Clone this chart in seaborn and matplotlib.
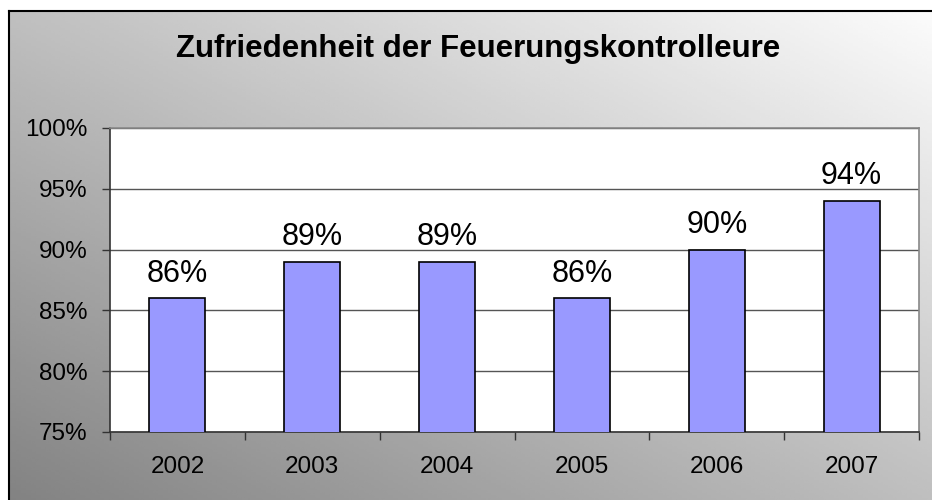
import numpy as np
import pandas as pd
import matplotlib
matplotlib.use("Agg")
import matplotlib.pyplot as plt
import seaborn as sns
from matplotlib.ticker import FixedLocator

years = ["2002", "2003", "2004", "2005", "2006", "2007"]
values = [86, 89, 89, 86, 90, 94]
yticks = [75, 80, 85, 90, 95, 100]
title = "Zufriedenheit der Feuerungskontrolleure"

sns.set_style("white")
plt.rcParams['font.family'] = ['Liberation Sans', 'DejaVu Sans']
plt.rcParams['text.color'] = 'black'
plt.rcParams['xtick.color'] = 'black'
plt.rcParams['ytick.color'] = 'black'
plt.rcParams['axes.labelcolor'] = 'black'

W, H = 932, 500
fig = plt.figure(figsize=(W / 100, H / 100), dpi=100)
fig.patch.set_facecolor("white")

# gradient background panel
bg = fig.add_axes([9 / W, -0.05, 1.05, 1.05 - 11 / H])
gx = np.linspace(0, 1, 200)
gy = np.linspace(0, 1, 200)
X, Y = np.meshgrid(gx, gy)
t = (X + Y) / 2
grad = 0.5 + 0.5 * t
bg.imshow(grad, cmap="gray", vmin=0, vmax=1, origin="lower",
          extent=[0, 1, 0, 1], aspect="auto", interpolation="bilinear")
bg.set_xlim(0, 1)
bg.set_ylim(0, 1)
bg.set_xticks([])
bg.set_yticks([])
for s in ["right", "bottom"]:
    bg.spines[s].set_visible(False)
for s in ["left", "top"]:
    bg.spines[s].set_color("black")
    bg.spines[s].set_linewidth(1.5)

ax = fig.add_axes([110 / W, (H - 432) / H, (919 - 110) / W, (432 - 128) / H])
ax.set_facecolor("white")
df = pd.DataFrame({"year": years, "value": values})
sns.barplot(data=df, x="year", y="value", color="#9999FF", edgecolor="black",
            linewidth=1.2, width=0.415, saturation=1, ax=ax, zorder=3)
ax.set_ylim(75, 100)
ax.set_xlim(-0.5, len(years) - 0.5)
ax.set_yticks(yticks)
ax.set_yticklabels([f"{v}%" for v in yticks], fontsize=17.5)
ax.yaxis.grid(True, color="#555555", linewidth=1)
ax.set_axisbelow(True)
ax.set_xlabel("")
ax.set_ylabel("")

ax.xaxis.set_major_locator(FixedLocator(np.arange(-0.5, len(years), 1.0)))
ax.xaxis.set_minor_locator(FixedLocator(np.arange(len(years))))
ax.set_xticklabels([], minor=False)
ax.set_xticklabels(years, minor=True, fontsize=17.5)
ax.tick_params(axis="x", which="major", direction="out", length=6, width=1,
               color="#333333", bottom=True)
ax.tick_params(axis="x", which="minor", length=0, pad=17)
ax.tick_params(axis="y", direction="out", length=6, width=1, color="#333333",
               left=True, pad=10)

for s in ["left", "bottom"]:
    ax.spines[s].set_color("#333333")
    ax.spines[s].set_linewidth(1.2)
for s in ["top", "right"]:
    ax.spines[s].set_color("#888888")
    ax.spines[s].set_linewidth(1.2)

for c in ax.containers:
    ax.bar_label(c, labels=[f"{v}%" for v in values], fontsize=22, padding=7,
                 color="black")

fig.text(478 / W, 1 - 57 / H, title, ha="center", va="baseline",
         fontsize=22.5, fontweight="bold", color="black")

fig.savefig("out.png", dpi=100)
